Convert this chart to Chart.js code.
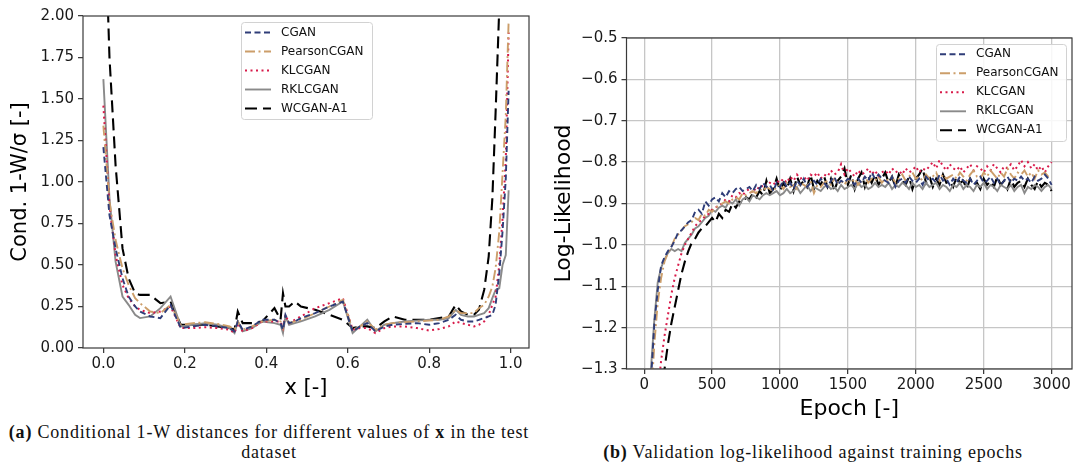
<!DOCTYPE html>
<html>
<head>
<meta charset="utf-8">
<script src="https://cdn.jsdelivr.net/npm/chart.js@4.4.0/dist/chart.umd.min.js"></script>
<style>
  html, body { margin: 0; padding: 0; background: #fff; }
  body { width: 1075px; height: 466px; position: relative; overflow: hidden; }
  #c1 { position: absolute; left: 0; top: 0; }
  #c2 { position: absolute; left: 545px; top: 0; }
  .cap { position: absolute; font-family: "Liberation Serif", serif; font-size: 18px; letter-spacing: 0.8px;
         color: #111; text-align: center; line-height: 20px; white-space: nowrap; }
</style>
</head>
<body>
<canvas id="c1" width="545" height="401"></canvas>
<canvas id="c2" width="530" height="422"></canvas>
<div class="cap" style="left:0; width:538px; top:422px;"><b>(a)</b> Conditional 1-W distances for different values of <b>x</b> in the test<br>dataset</div>
<div class="cap" style="left:560px; width:506px; top:442px;"><b>(b)</b> Validation log-likelihood against training epochs</div>
<script>
const seriesNames = ["CGAN", "PearsonCGAN", "KLCGAN", "RKLCGAN", "WCGAN-A1"];
const seriesColors = ["#2f3d78", "#cc9e6a", "#d81b4a", "#8a8a8a", "#000000"];
const seriesDash = [[6, 3.5], [10, 3.5, 2, 3.5], [2, 3.5], [], [12, 6]];
const seriesWidth = [1.9, 1.9, 2, 1.9, 2.1];

// ----- (a) conditional 1-W distance vs x -----
const xVals = [0.0, 0.015, 0.03, 0.047, 0.062, 0.078, 0.09, 0.115, 0.14, 0.165,
  0.19, 0.22, 0.25, 0.28, 0.31, 0.322, 0.33, 0.342, 0.365, 0.39,
  0.42, 0.435, 0.441, 0.447, 0.456, 0.47, 0.485, 0.52, 0.555, 0.588,
  0.612, 0.63, 0.648, 0.668, 0.69, 0.71, 0.74, 0.77, 0.8, 0.825,
  0.848, 0.865, 0.878, 0.895, 0.91, 0.922, 0.935, 0.946, 0.955, 0.963,
  0.972, 0.98, 0.988, 0.995];
const wCGAN = [1.21, 0.80, 0.60, 0.42, 0.31, 0.25, 0.22, 0.19, 0.18, 0.26,
  0.12, 0.13, 0.14, 0.13, 0.12, 0.10, 0.16, 0.11, 0.13, 0.17,
  0.17, 0.15, 0.11, 0.20, 0.15, 0.16, 0.18, 0.21, 0.25, 0.28,
  0.10, 0.13, 0.15, 0.10, 0.13, 0.14, 0.145, 0.15, 0.14, 0.15,
  0.17, 0.20, 0.17, 0.16, 0.16, 0.17, 0.18, 0.19, 0.20, 0.26,
  0.45, 0.70, 1.02, 1.55];
const wPearson = [1.34, 0.88, 0.65, 0.48, 0.38, 0.30, 0.27, 0.22, 0.21, 0.26,
  0.14, 0.15, 0.155, 0.145, 0.13, 0.11, 0.16, 0.11, 0.13, 0.16,
  0.17, 0.16, 0.12, 0.19, 0.15, 0.16, 0.17, 0.21, 0.25, 0.29,
  0.11, 0.13, 0.16, 0.11, 0.14, 0.15, 0.155, 0.16, 0.165, 0.17,
  0.19, 0.23, 0.21, 0.21, 0.21, 0.24, 0.26, 0.31, 0.37, 0.48,
  0.70, 1.05, 1.40, 1.97];
const wKL = [1.46, 0.86, 0.56, 0.38, 0.30, 0.25, 0.23, 0.21, 0.22, 0.25,
  0.12, 0.12, 0.125, 0.12, 0.11, 0.09, 0.15, 0.10, 0.12, 0.16,
  0.16, 0.16, 0.12, 0.20, 0.15, 0.17, 0.19, 0.24, 0.27, 0.30,
  0.11, 0.12, 0.12, 0.09, 0.12, 0.13, 0.13, 0.12, 0.105, 0.115,
  0.13, 0.16, 0.15, 0.14, 0.13, 0.14, 0.16, 0.20, 0.26, 0.31,
  0.50, 0.78, 1.14, 1.90];
const wRKL = [1.62, 0.90, 0.52, 0.31, 0.26, 0.20, 0.18, 0.19, 0.24, 0.31,
  0.13, 0.14, 0.15, 0.14, 0.12, 0.09, 0.16, 0.10, 0.12, 0.16,
  0.15, 0.14, 0.09, 0.19, 0.14, 0.15, 0.16, 0.19, 0.23, 0.28,
  0.09, 0.13, 0.17, 0.10, 0.14, 0.15, 0.16, 0.165, 0.17, 0.17,
  0.18, 0.23, 0.20, 0.19, 0.19, 0.20, 0.21, 0.24, 0.30, 0.35,
  0.36, 0.50, 0.56, 0.95];
const wWCGAN = [2.9, 1.75, 1.10, 0.60, 0.42, 0.33, 0.32, 0.32, 0.27, 0.28,
  0.14, 0.14, 0.14, 0.13, 0.12, 0.11, 0.22, 0.15, 0.15, 0.16,
  0.24, 0.17, 0.33, 0.25, 0.25, 0.28, 0.25, 0.23, 0.20, 0.17,
  0.12, 0.13, 0.13, 0.12, 0.16, 0.19, 0.17, 0.17, 0.17, 0.18,
  0.19, 0.26, 0.22, 0.20, 0.20, 0.23, 0.35, 0.55, 0.90, 1.42,
  2.05, 2.7, 3.3, 4.0];
const xTicksA = [0, 0.2, 0.4, 0.6, 0.8, 1.0];
const yTicksA = [0, 0.25, 0.5, 0.75, 1.0, 1.25, 1.5, 1.75, 2.0];

// ----- (b) validation log-likelihood vs epoch -----
const epochs = [25, 50, 75, 100, 125, 150, 175, 200, 225, 250,
  275, 300, 325, 350, 375, 400, 425, 450, 475, 500,
  525, 550, 575, 600, 625, 650, 675, 700, 725, 750,
  775, 800, 825, 850, 875, 900, 925, 950, 975, 1000,
  1025, 1050, 1075, 1100, 1125, 1150, 1175, 1200, 1225, 1250,
  1275, 1300, 1325, 1350, 1375, 1400, 1425, 1450, 1475, 1500,
  1525, 1550, 1575, 1600, 1625, 1650, 1675, 1700, 1725, 1750,
  1775, 1800, 1825, 1850, 1875, 1900, 1925, 1950, 1975, 2000,
  2025, 2050, 2075, 2100, 2125, 2150, 2175, 2200, 2225, 2250,
  2275, 2300, 2325, 2350, 2375, 2400, 2425, 2450, 2475, 2500,
  2525, 2550, 2575, 2600, 2625, 2650, 2675, 2700, 2725, 2750,
  2775, 2800, 2825, 2850, 2875, 2900, 2925, 2950, 2975, 3000];
const llCGAN = [-1.48, -1.33, -1.19, -1.11, -1.05, -1.03, -1.015, -1.005, -0.99, -0.97,
  -0.965, -0.955, -0.945, -0.94, -0.92, -0.915, -0.925, -0.895, -0.905, -0.89,
  -0.885, -0.895, -0.875, -0.885, -0.87, -0.875, -0.865, -0.86, -0.87, -0.865,
  -0.86, -0.87, -0.855, -0.865, -0.85, -0.86, -0.855, -0.87, -0.85, -0.86,
  -0.845, -0.86, -0.85, -0.865, -0.845, -0.855, -0.84, -0.86, -0.85, -0.845,
  -0.855, -0.84, -0.85, -0.86, -0.845, -0.835, -0.855, -0.845, -0.85, -0.84,
  -0.845, -0.855, -0.84, -0.85, -0.835, -0.845, -0.825, -0.84, -0.83, -0.84,
  -0.845, -0.85, -0.835, -0.86, -0.845, -0.84, -0.85, -0.835, -0.845, -0.85,
  -0.84, -0.855, -0.835, -0.845, -0.84, -0.85, -0.83, -0.845, -0.84, -0.855,
  -0.84, -0.85, -0.835, -0.845, -0.85, -0.84, -0.855, -0.845, -0.835, -0.85,
  -0.845, -0.835, -0.85, -0.84, -0.855, -0.845, -0.835, -0.85, -0.84, -0.845,
  -0.835, -0.845, -0.84, -0.85, -0.835, -0.845, -0.84, -0.83, -0.84, -0.855];
const llPearson = [-1.55, -1.38, -1.24, -1.14, -1.08, -1.04, -1.02, -1.005, -0.985, -0.975,
  -0.965, -0.955, -0.95, -0.945, -0.935, -0.94, -0.925, -0.93, -0.915, -0.92,
  -0.91, -0.905, -0.9, -0.895, -0.9, -0.89, -0.885, -0.89, -0.875, -0.88,
  -0.875, -0.87, -0.875, -0.865, -0.87, -0.86, -0.865, -0.87, -0.86, -0.855,
  -0.865, -0.85, -0.86, -0.855, -0.865, -0.85, -0.855, -0.86, -0.845, -0.875,
  -0.855, -0.86, -0.85, -0.845, -0.855, -0.84, -0.85, -0.845, -0.855, -0.84,
  -0.85, -0.84, -0.855, -0.845, -0.835, -0.85, -0.84, -0.845, -0.835, -0.85,
  -0.84, -0.845, -0.835, -0.85, -0.84, -0.83, -0.845, -0.835, -0.825, -0.84,
  -0.835, -0.845, -0.83, -0.84, -0.835, -0.825, -0.845, -0.83, -0.84, -0.835,
  -0.83, -0.84, -0.825, -0.835, -0.845, -0.83, -0.82, -0.835, -0.84, -0.825,
  -0.835, -0.82, -0.83, -0.84, -0.825, -0.835, -0.815, -0.83, -0.84, -0.825,
  -0.83, -0.82, -0.835, -0.825, -0.84, -0.82, -0.83, -0.825, -0.835, -0.84];
const llKL = [-1.75, -1.6, -1.45, -1.36, -1.28, -1.22, -1.17, -1.12, -1.08, -1.05,
  -1.02, -1.0, -0.985, -0.97, -0.955, -0.945, -0.94, -0.93, -0.925, -0.915,
  -0.91, -0.905, -0.9, -0.89, -0.895, -0.88, -0.885, -0.875, -0.88, -0.87,
  -0.865, -0.875, -0.86, -0.865, -0.855, -0.86, -0.85, -0.855, -0.845, -0.85,
  -0.84, -0.85, -0.835, -0.845, -0.83, -0.84, -0.835, -0.845, -0.83, -0.835,
  -0.825, -0.84, -0.83, -0.835, -0.82, -0.83, -0.825, -0.805, -0.83, -0.815,
  -0.825, -0.835, -0.82, -0.83, -0.825, -0.815, -0.83, -0.82, -0.835, -0.825,
  -0.82, -0.83, -0.815, -0.825, -0.82, -0.83, -0.815, -0.825, -0.82, -0.81,
  -0.825, -0.815, -0.82, -0.81, -0.8, -0.815, -0.795, -0.81, -0.82, -0.805,
  -0.815, -0.82, -0.81, -0.825, -0.815, -0.805, -0.82, -0.81, -0.815, -0.825,
  -0.81, -0.82, -0.805, -0.815, -0.825, -0.81, -0.815, -0.805, -0.82, -0.81,
  -0.795, -0.81, -0.8, -0.815, -0.805, -0.82, -0.81, -0.825, -0.81, -0.8];
const llRKL = [-1.45, -1.3, -1.18, -1.09, -1.055, -1.035, -1.02, -1.01, -1.015, -1.01,
  -1.015, -0.995, -0.985, -0.975, -0.96, -0.955, -0.945, -0.935, -0.93, -0.915,
  -0.92, -0.91, -0.905, -0.91, -0.895, -0.9, -0.89, -0.905, -0.89, -0.885,
  -0.895, -0.88, -0.885, -0.89, -0.88, -0.875, -0.88, -0.875, -0.87, -0.88,
  -0.875, -0.865, -0.875, -0.87, -0.86, -0.875, -0.865, -0.855, -0.87, -0.86,
  -0.865, -0.87, -0.86, -0.855, -0.865, -0.86, -0.87, -0.855, -0.865, -0.86,
  -0.855, -0.865, -0.85, -0.86, -0.855, -0.865, -0.86, -0.85, -0.86, -0.855,
  -0.86, -0.85, -0.865, -0.855, -0.86, -0.85, -0.855, -0.865, -0.85, -0.86,
  -0.855, -0.865, -0.85, -0.86, -0.855, -0.85, -0.865, -0.855, -0.86, -0.87,
  -0.855, -0.86, -0.85, -0.865, -0.855, -0.86, -0.87, -0.855, -0.86, -0.85,
  -0.865, -0.855, -0.86, -0.87, -0.855, -0.86, -0.865, -0.855, -0.87, -0.86,
  -0.855, -0.875, -0.86, -0.865, -0.855, -0.86, -0.87, -0.86, -0.855, -0.865];
const llWCGAN = [-1.8, -1.68, -1.56, -1.46, -1.37, -1.3, -1.24, -1.19, -1.15, -1.11,
  -1.07, -1.04, -1.015, -0.995, -0.985, -0.97, -0.96, -0.955, -0.945, -0.935,
  -0.945, -0.925, -0.935, -0.915, -0.92, -0.9, -0.91, -0.895, -0.9, -0.885,
  -0.89, -0.875, -0.885, -0.87, -0.88, -0.845, -0.875, -0.865, -0.84, -0.87,
  -0.85, -0.865, -0.84, -0.87, -0.835, -0.855, -0.845, -0.86, -0.83, -0.865,
  -0.845, -0.855, -0.835, -0.86, -0.84, -0.87, -0.845, -0.835, -0.815, -0.855,
  -0.83, -0.865, -0.84, -0.825, -0.86, -0.835, -0.85, -0.83, -0.855, -0.84,
  -0.825, -0.85, -0.835, -0.86, -0.83, -0.845, -0.855, -0.835, -0.865, -0.84,
  -0.83, -0.815, -0.85, -0.835, -0.86, -0.84, -0.855, -0.83, -0.85, -0.845,
  -0.86, -0.835, -0.85, -0.845, -0.865, -0.84, -0.855, -0.85, -0.865, -0.84,
  -0.855, -0.845, -0.86, -0.835, -0.855, -0.845, -0.865, -0.84, -0.86, -0.85,
  -0.845, -0.86, -0.84, -0.855, -0.865, -0.845, -0.86, -0.85, -0.855, -0.87];
const xTicksB = [0, 500, 1000, 1500, 2000, 2500, 3000];
const yTicksB = [-1.3, -1.2, -1.1, -1.0, -0.9, -0.8, -0.7, -0.6, -0.5];

const FONT = '"DejaVu Sans", sans-serif';

function makeSets(xs, lists) {
  return lists.map((vals, i) => ({
    label: seriesNames[i],
    data: vals.map((v, k) => ({ x: xs[k], y: v })),
    borderColor: seriesColors[i],
    borderDash: seriesDash[i],
    borderWidth: seriesWidth[i],
    pointRadius: 0,
    tension: 0,
    fill: false,
  }));
}

// frame round the plot + matplotlib style legend box
const frameAndLegend = {
  id: "frameAndLegend",
  afterDraw(chart, args, o) {
    const ctx = chart.ctx;
    const a = chart.chartArea;
    ctx.save();
    ctx.strokeStyle = "#3a3a3a";
    ctx.lineWidth = 1.2;
    ctx.setLineDash([]);
    ctx.strokeRect(a.left, a.top, a.right - a.left, a.bottom - a.top);

    ctx.fillStyle = "rgba(255,255,255,0.85)";
    ctx.strokeStyle = "#d2d2d2";
    ctx.lineWidth = 1;
    ctx.beginPath();
    ctx.roundRect(o.x + 0.5, o.y + 0.5, o.w, o.h, 3);
    ctx.fill();
    ctx.stroke();

    ctx.font = "12px " + FONT;
    ctx.textBaseline = "middle";
    chart.data.datasets.forEach((ds, i) => {
      const y = o.y + o.first + i * o.row;
      ctx.strokeStyle = ds.borderColor;
      ctx.lineWidth = ds.borderWidth;
      ctx.setLineDash(ds.borderDash);
      ctx.beginPath();
      ctx.moveTo(o.x + 4, y);
      ctx.lineTo(o.x + 30, y);
      ctx.stroke();
      ctx.setLineDash([]);
      ctx.fillStyle = "#111";
      ctx.fillText(ds.label, o.x + 40, y);
    });
    ctx.restore();
  },
};

function axis(ticksArr, fmt, opts) {
  return {
    type: "linear",
    min: opts.min,
    max: opts.max,
    afterBuildTicks: (s) => { s.ticks = ticksArr.map((v) => ({ value: v })); },
    afterFit: (s) => {
      if (opts.width) s.width = opts.width;
      if (opts.height) s.height = opts.height;
    },
    border: { display: false },
    grid: {
      display: true,
      drawOnChartArea: !!opts.grid,
      color: "#c6c6c6",
      lineWidth: 1.3,
      tickLength: 5,
      tickColor: "#333",
      tickWidth: 1.2,
    },
    ticks: {
      callback: fmt,
      color: "#1a1a1a",
      font: { family: FONT, size: 15 },
      padding: opts.pad,
      maxRotation: 0,
      autoSkip: false,
    },
    title: {
      display: true,
      text: opts.title,
      color: "#000",
      font: { family: FONT, size: opts.titleSize },
      padding: 0,
    },
  };
}

Chart.defaults.animation = false;

new Chart(document.getElementById("c1").getContext("2d"), {
  type: "line",
  data: { datasets: makeSets(xVals, [wCGAN, wPearson, wKL, wRKL, wWCGAN]) },
  options: {
    responsive: false,
    layout: { padding: { left: 8, top: 16, right: 16, bottom: 0 } },
    plugins: {
      legend: { display: false },
      tooltip: { enabled: false },
      frameAndLegend: { x: 241, y: 22, w: 131, h: 97, first: 10.5, row: 19 },
    },
    scales: {
      x: axis(xTicksA, (v) => v.toFixed(1), { min: -0.05, max: 1.045, height: 53, pad: 2, title: "x [-]", titleSize: 21 }),
      y: axis(yTicksA, (v) => v.toFixed(2), { min: 0, max: 2, width: 75, pad: 4, title: "Cond. 1-W/σ [-]", titleSize: 21 }),
    },
  },
  plugins: [frameAndLegend],
});

new Chart(document.getElementById("c2").getContext("2d"), {
  type: "line",
  data: { datasets: makeSets(epochs, [llCGAN, llPearson, llKL, llRKL, llWCGAN]) },
  options: {
    responsive: false,
    layout: { padding: { left: 6, top: 38, right: 3, bottom: 0 } },
    plugins: {
      legend: { display: false },
      tooltip: { enabled: false },
      frameAndLegend: { x: 391, y: 44, w: 130, h: 97, first: 10.3, row: 19 },
    },
    scales: {
      x: axis(xTicksB, (v) => String(v), { min: -130, max: 3150, height: 53, pad: 2, grid: true, title: "Epoch [-]", titleSize: 22 }),
      y: axis(yTicksB, (v) => (v < 0 ? "\u2212" : "") + Math.abs(v).toFixed(1), { min: -1.3, max: -0.5, width: 75.5, pad: 4, grid: true, title: "Log-Likelihood", titleSize: 22 }),
    },
  },
  plugins: [frameAndLegend],
});
</script>
</body>
</html>
